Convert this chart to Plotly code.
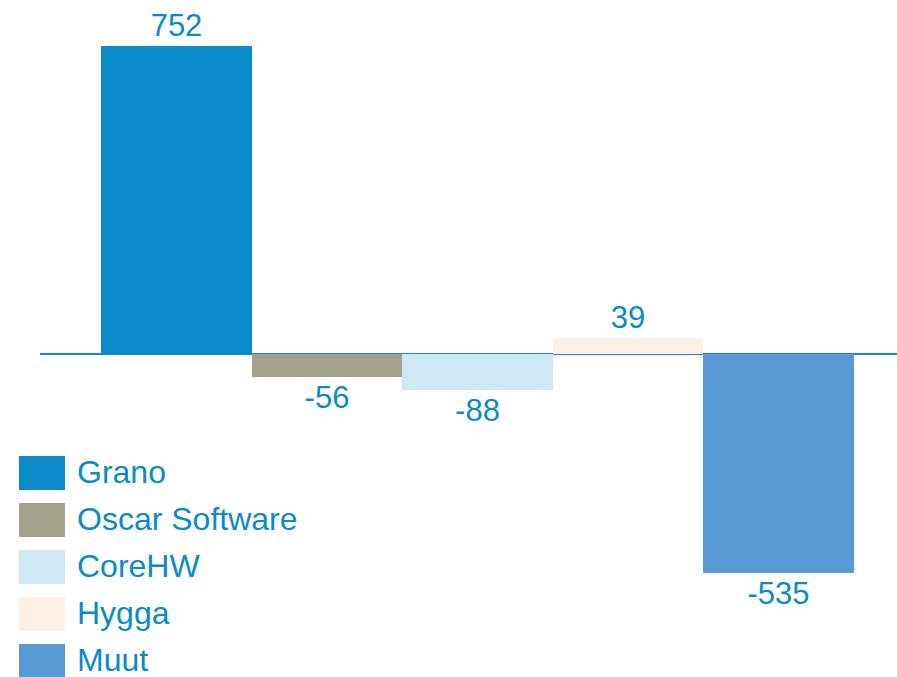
import plotly.graph_objects as go

categories = ["Grano", "Oscar Software", "CoreHW", "Hygga", "Muut"]
values = [752, -56, -88, 39, -535]
colors = ["#0a8ac8", "#a3a18c", "#cde8f3", "#fdf0e6", "#5b9bd5"]

W, H = 897, 677
text_color = "#0a8ac8"
font_family = "Liberation Sans, Arial, sans-serif"

fig = go.Figure()
for i, (name, v, c) in enumerate(zip(categories, values, colors)):
    fig.add_trace(go.Bar(
        x=[i], y=[v], name=name, width=1,
        marker=dict(color=c, line=dict(width=0)),
        text=[str(v)], textposition="outside",
        textfont=dict(size=31, color=text_color, family=font_family),
        cliponaxis=False, showlegend=False, hoverinfo="skip",
    ))

# custom legend (large swatches)
for k, (name, c) in enumerate(zip(categories, colors)):
    top = 456 + 47 * k
    bot = top + 34
    fig.add_shape(type="rect", xref="paper", yref="paper",
                  x0=19 / W, x1=65 / W, y0=1 - bot / H, y1=1 - top / H,
                  fillcolor=c, line=dict(width=0), layer="above")
    fig.add_annotation(xref="paper", yref="paper", x=75 / W, y=1 - (top + 16) / H,
                       text=name, showarrow=False, xanchor="left", yanchor="middle",
                       font=dict(size=32, color=text_color, family=font_family))

fig.update_layout(
    width=W, height=H,
    margin=dict(l=0, r=0, t=0, b=0),
    paper_bgcolor="white", plot_bgcolor="white",
    barmode="overlay", bargap=0,
    font=dict(family=font_family, color=text_color),
    xaxis=dict(domain=[40 / W, 1], range=[-0.905, 4.786], showticklabels=False,
               showgrid=False, zeroline=False, showline=False, ticks=""),
    yaxis=dict(range=[-789, 864], showticklabels=False, showgrid=False,
               zeroline=True, zerolinecolor="#1a8cc8", zerolinewidth=2,
               showline=False, ticks=""),
)

fig.write_html("out.html", config={"displayModeBar": False},
               post_script="document.body.style.margin='0';document.body.style.overflow='hidden';")
